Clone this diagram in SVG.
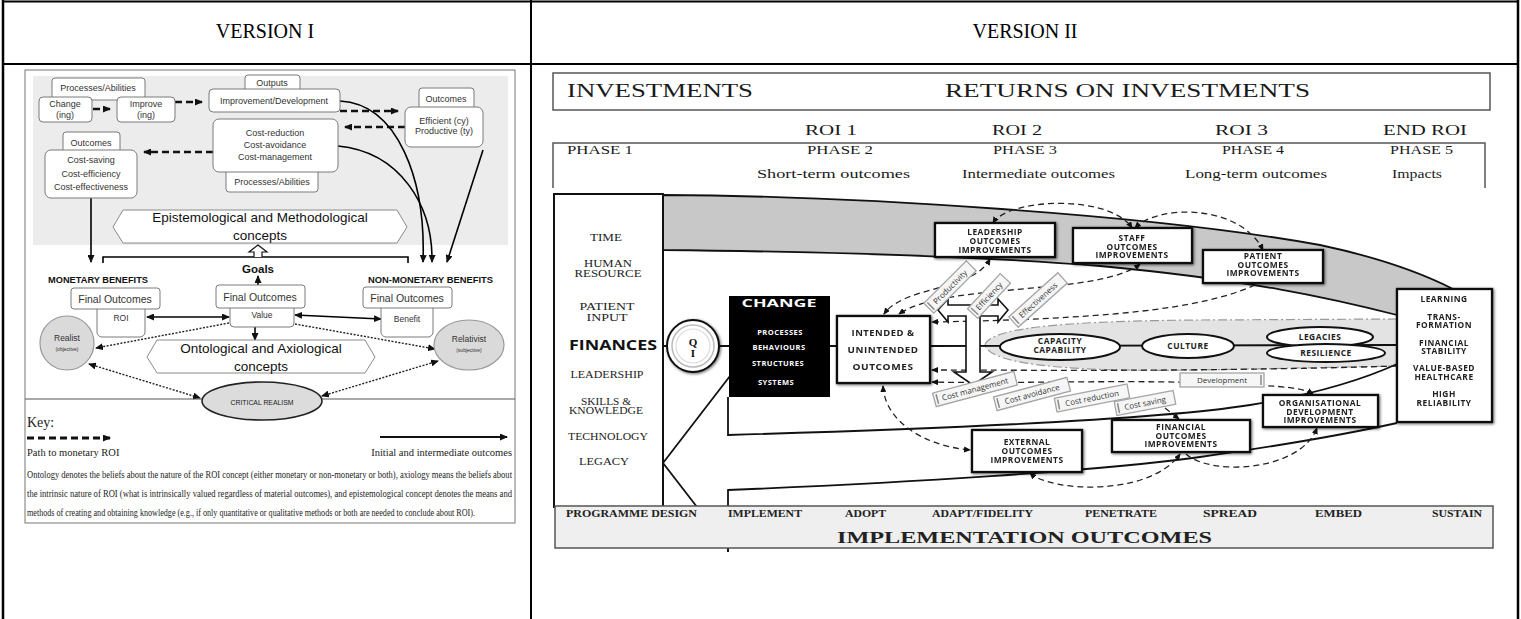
<svg xmlns="http://www.w3.org/2000/svg" width="1521" height="619" viewBox="0 0 1521 619">
<style>
.grid{stroke:#000;stroke-width:2;fill:none}
.hd{font-family:"Liberation Serif","Times New Roman",serif;font-size:20px;text-anchor:middle;fill:#000}
.s{font-family:"Liberation Sans",Arial,sans-serif;fill:#333;text-anchor:middle;font-size:9px}
.bx{fill:#fff;stroke:#7a7a7a;stroke-width:1}
.hex{fill:#fff;stroke:#8a8a8a;stroke-width:1}
.dash{fill:none;stroke:#111;stroke-width:2.6;stroke-dasharray:7 4}
.sol{fill:none;stroke:#000;stroke-width:1.6}
.dot{fill:none;stroke:#222;stroke-width:1.4;stroke-dasharray:2 1.5}
.ser{font-family:"Liberation Serif","Times New Roman",serif;fill:#222}
.v2{font-family:"Liberation Serif","Times New Roman",serif;fill:#1a1a1a}
.res{font-family:"Liberation Serif","Times New Roman",serif;fill:#222;font-size:10.5px;text-anchor:middle}
.bar{font-family:"Liberation Serif","Times New Roman",serif;font-weight:bold;fill:#222;font-size:10.5px}
.nb{font-family:"Open Sans","DejaVu Sans",sans-serif;font-weight:bold;fill:#222;text-anchor:middle;font-size:8.4px;letter-spacing:0.5px}
.node{fill:#fff;stroke:#111;stroke-width:2.3}
.dsh{fill:none;stroke:#222;stroke-width:1.3;stroke-dasharray:6 4}
.tag rect{fill:#f6f6f6;stroke:#a5a5a5;stroke-width:1.3}
.tag line{stroke:#8a8a8a;stroke-width:1.5}
.tag text{font-family:"Open Sans","DejaVu Sans",sans-serif;font-size:8px;fill:#333;text-anchor:middle}
.ell{fill:#fff;stroke:#111;stroke-width:2}
.ln{fill:none;stroke:#111;stroke-width:1.8}
</style>
<defs>
<marker id="ah" viewBox="0 0 8 7" refX="7" refY="3.5" markerWidth="8" markerHeight="7" markerUnits="userSpaceOnUse" orient="auto-start-reverse"><path d="M0,0 L8,3.5 L0,7 z" fill="#111"/></marker>
<marker id="ahs" viewBox="0 0 7 6" refX="6" refY="3" markerWidth="7" markerHeight="6" markerUnits="userSpaceOnUse" orient="auto-start-reverse"><path d="M0,0 L7,3 L0,6 z" fill="#111"/></marker>
<filter id="halo" x="-15%" y="-20%" width="130%" height="140%">
<feGaussianBlur in="SourceAlpha" stdDeviation="1.8" result="b"/>
<feOffset in="b" dx="1" dy="1" result="o"/>
<feComponentTransfer in="o" result="c"><feFuncA type="linear" slope="0.6"/></feComponentTransfer>
<feMerge><feMergeNode in="c"/><feMergeNode in="SourceGraphic"/></feMerge>
</filter>
</defs>

<rect width="1521" height="619" fill="#fff"/>

<!-- table grid -->
<g id="table" class="grid">
<line x1="2" y1="1.5" x2="1519" y2="1.5"/>
<line x1="2" y1="64" x2="1519" y2="64"/>
<line x1="3" y1="0" x2="3" y2="619" stroke-width="2.5"/>
<line x1="531" y1="0" x2="531" y2="619"/>
<line x1="1518" y1="0" x2="1518" y2="619" stroke-width="2.5"/>
</g>
<text class="hd" x="265" y="38">VERSION I</text>
<text class="hd" x="1025" y="38">VERSION II</text>

<!-- ===== Version I ===== -->
<rect x="25" y="70" width="490" height="453" fill="#fff" stroke="#777" stroke-width="1"/>
<rect x="33" y="76" width="475" height="169" fill="#ececec"/>

<g id="v1-connectors">
<line class="dash" x1="93" y1="109" x2="110" y2="109" marker-end="url(#ah)"/>
<line class="dash" x1="175" y1="102" x2="202" y2="102" marker-end="url(#ah)"/>
<line class="dash" x1="340" y1="111" x2="398" y2="111" marker-end="url(#ah)"/>
<line class="dash" x1="405" y1="127" x2="345" y2="127" marker-end="url(#ah)"/>
<line class="dash" x1="213" y1="152" x2="144" y2="152" marker-end="url(#ah)"/>
<path class="sol" d="M340,101 C398,104 426,180 423,262" marker-end="url(#ah)"/>
<path class="sol" d="M338,146 C400,152 433,205 432,262" marker-end="url(#ah)"/>
<path class="sol" d="M483,150 L447,262" marker-end="url(#ah)"/>
<path class="sol" d="M91,198 L91,262" marker-end="url(#ah)"/>
<path class="sol" d="M103,263 L103,257 L408,257 L408,263"/>
<path d="M254,257 L254,252 L249,252 L258,245 L267,252 L262,252 L262,257" fill="#fff" stroke="#111" stroke-width="1.2"/>
<path class="sol" d="M258,285 L258,276" marker-end="url(#ah)"/>
<path class="sol" d="M147,317 L229,317" stroke-width="2.2" marker-start="url(#ah)" marker-end="url(#ah)"/>
<path class="sol" d="M295,315 L381,319" stroke-width="2.2" marker-start="url(#ah)" marker-end="url(#ah)"/>
<path class="sol" d="M255,327 L255,340" marker-end="url(#ah)"/>
<path class="dot" d="M229,323 L96,348" marker-end="url(#ah)"/>
<path class="dot" d="M295,324 L435,349" marker-end="url(#ah)"/>
<path class="dot" d="M89,364 L200,398" marker-start="url(#ah)" marker-end="url(#ah)"/>
<path class="dot" d="M322,396 L438,361" marker-start="url(#ah)" marker-end="url(#ah)"/>
<line x1="25" y1="399" x2="202" y2="399" stroke="#555" stroke-width="1.2"/>
<line x1="320" y1="399" x2="515" y2="399" stroke="#555" stroke-width="1.2"/>
</g>

<g id="v1-processes-top"><rect class="bx" x="52" y="78" width="93" height="22" rx="3"/><text class="s" x="98" y="91">Processes/Abilities</text></g>
<g id="v1-change"><rect class="bx" x="39" y="97" width="53" height="25" rx="4"/><text class="s" x="65" y="107">Change</text><text class="s" x="65" y="118">(ing)</text></g>
<g id="v1-improve"><rect class="bx" x="117" y="97" width="58" height="25" rx="4"/><text class="s" x="146" y="107">Improve</text><text class="s" x="146" y="118">(ing)</text></g>
<g id="v1-outputs"><rect class="bx" x="245" y="75" width="55" height="20" rx="3"/><text class="s" x="272" y="86">Outputs</text></g>
<g id="v1-improvement"><rect class="bx" x="209" y="89" width="131" height="23" rx="4"/><text class="s" x="274" y="104">Improvement/Development</text></g>
<g id="v1-processes-bottom"><rect class="bx" x="226" y="165" width="92" height="27" rx="3"/><text class="s" x="272" y="185">Processes/Abilities</text></g>
<g id="v1-cost-means"><rect class="bx" x="213" y="119" width="125" height="53" rx="6"/><text class="s" x="275" y="136">Cost-reduction</text><text class="s" x="275" y="148">Cost-avoidance</text><text class="s" x="275" y="160">Cost-management</text></g>
<g id="v1-outcomes-left"><rect class="bx" x="63" y="132" width="57" height="22" rx="3"/><text class="s" x="91" y="146">Outcomes</text></g>
<g id="v1-cost-outcomes"><rect class="bx" x="45" y="150" width="92" height="48" rx="6"/><text class="s" x="91" y="163">Cost-saving</text><text class="s" x="91" y="177">Cost-efficiency</text><text class="s" x="91" y="190">Cost-effectiveness</text></g>
<g id="v1-outcomes-right"><rect class="bx" x="419" y="88" width="55" height="22" rx="3"/><text class="s" x="446" y="102">Outcomes</text></g>
<g id="v1-efficient"><rect class="bx" x="405" y="107" width="78" height="40" rx="6"/><text class="s" x="444" y="124">Efficient (cy)</text><text class="s" x="444" y="134">Productive (ty)</text></g>

<g id="v1-epistemological"><polygon class="hex" points="113,227 123,210 397,210 407,227 397,243 123,243"/><text class="s" x="260" y="222" style="font-size:13.5px;fill:#111">Epistemological and Methodological</text><text class="s" x="260" y="240" style="font-size:13.5px;fill:#111">concepts</text></g>

<text class="s" x="258" y="273" style="font-size:11.5px;font-weight:bold;fill:#111">Goals</text>
<text class="s" x="48" y="283" style="font-weight:bold;fill:#111;text-anchor:start" textLength="100" lengthAdjust="spacingAndGlyphs">MONETARY BENEFITS</text>
<text class="s" x="368" y="283" style="font-weight:bold;fill:#111;text-anchor:start" textLength="125" lengthAdjust="spacingAndGlyphs">NON-MONETARY BENEFITS</text>

<g id="v1-roi"><rect class="bx" x="97" y="300" width="48" height="37" rx="5"/><text class="s" x="121" y="321" style="font-size:8.5px">ROI</text></g>
<g id="v1-final-left"><rect class="bx" x="71" y="288" width="89" height="21" rx="3"/><text class="s" x="115" y="303" style="font-size:10.5px">Final Outcomes</text></g>
<g id="v1-value"><rect class="bx" x="230" y="300" width="64" height="27" rx="4"/><text class="s" x="262" y="318" style="font-size:8.5px">Value</text></g>
<g id="v1-final-centre"><rect class="bx" x="216" y="285" width="89" height="23" rx="3"/><text class="s" x="260" y="301" style="font-size:10.5px">Final Outcomes</text></g>
<g id="v1-benefit"><rect class="bx" x="381" y="300" width="52" height="37" rx="5"/><text class="s" x="407" y="322" style="font-size:8.5px">Benefit</text></g>
<g id="v1-final-right"><rect class="bx" x="363" y="287" width="89" height="21" rx="3"/><text class="s" x="407" y="302" style="font-size:10.5px">Final Outcomes</text></g>

<g id="v1-ontological"><polygon class="hex" points="147,357 157,340 365,340 375,357 365,373 157,373"/><text class="s" x="261" y="353" style="font-size:13.5px;fill:#111">Ontological and Axiological</text><text class="s" x="261" y="371" style="font-size:13.5px;fill:#111">concepts</text></g>

<g id="v1-realist"><circle cx="67" cy="343" r="27" fill="#dadada" stroke="#999" stroke-width="1.2"/><text class="s" x="67" y="341" style="font-size:8.5px">Realist</text><text class="s" x="67" y="351" style="font-size:5px">(objective)</text></g>
<g id="v1-relativist"><ellipse cx="469" cy="345" rx="35" ry="25" fill="#dadada" stroke="#999" stroke-width="1.2"/><text class="s" x="469" y="342" style="font-size:8.5px">Relativist</text><text class="s" x="469" y="352" style="font-size:5px">(subjective)</text></g>
<g id="v1-critical-realism"><ellipse cx="262" cy="401" rx="60" ry="19" fill="#dcdcdc" stroke="#222" stroke-width="1.6"/><text class="s" x="262" y="405" style="font-size:7.5px;fill:#222" textLength="63" lengthAdjust="spacingAndGlyphs">CRITICAL REALISM</text></g>

<g id="v1-key">
<text class="ser" x="27" y="427" font-size="14">Key:</text>
<line x1="27" y1="438" x2="110" y2="438" stroke="#111" stroke-width="3" stroke-dasharray="7 4" marker-end="url(#ah)"/>
<text class="ser" x="27" y="456" font-size="10.5">Path to monetary ROI</text>
<line x1="380" y1="437" x2="507" y2="437" stroke="#111" stroke-width="2" marker-end="url(#ah)"/>
<text class="ser" x="512" y="456" font-size="10.5" text-anchor="end">Initial and intermediate outcomes</text>
<text class="ser" x="27" y="478" font-size="9.5" textLength="485" lengthAdjust="spacingAndGlyphs">Ontology denotes the beliefs about the nature of the ROI concept (either monetary or non-monetary or both), axiology means the beliefs about</text>
<text class="ser" x="27" y="497" font-size="9.5" textLength="485" lengthAdjust="spacingAndGlyphs">the intrinsic nature of ROI (what is intrinsically valued regardless of material outcomes), and epistemological concept denotes the means and</text>
<text class="ser" x="27" y="516" font-size="9.5" textLength="448" lengthAdjust="spacingAndGlyphs">methods of creating and obtaining knowledge (e.g., if only quantitative or qualitative methods or both are needed to conclude about ROI).</text>
</g>

<!-- ===== Version II ===== -->
<g id="v2-header">
<rect x="553" y="73" width="937" height="37" fill="none" stroke="#555" stroke-width="1.5"/>
<text class="v2" x="567" y="97" font-size="18" textLength="186" lengthAdjust="spacingAndGlyphs">INVESTMENTS</text>
<text class="v2" x="945" y="97" font-size="18" textLength="365" lengthAdjust="spacingAndGlyphs">RETURNS ON INVESTMENTS</text>
<text class="v2" x="805" y="135" font-size="15" textLength="52" lengthAdjust="spacingAndGlyphs">ROI 1</text>
<text class="v2" x="992" y="135" font-size="15" textLength="50" lengthAdjust="spacingAndGlyphs">ROI 2</text>
<text class="v2" x="1215" y="135" font-size="15" textLength="53" lengthAdjust="spacingAndGlyphs">ROI 3</text>
<text class="v2" x="1383" y="135" font-size="15" textLength="84" lengthAdjust="spacingAndGlyphs">END ROI</text>
<path d="M553,188 L553,143 L1485,143 L1485,188" fill="none" stroke="#555" stroke-width="1.5"/>
<text class="v2" x="567" y="154" font-size="12" textLength="66" lengthAdjust="spacingAndGlyphs">PHASE 1</text>
<text class="v2" x="807" y="154" font-size="12" textLength="66" lengthAdjust="spacingAndGlyphs">PHASE 2</text>
<text class="v2" x="993" y="154" font-size="12" textLength="64" lengthAdjust="spacingAndGlyphs">PHASE 3</text>
<text class="v2" x="1222" y="154" font-size="12" textLength="62" lengthAdjust="spacingAndGlyphs">PHASE 4</text>
<text class="v2" x="1390" y="154" font-size="12" textLength="63" lengthAdjust="spacingAndGlyphs">PHASE 5</text>
<text class="v2" x="757" y="178" font-size="13" textLength="153" lengthAdjust="spacingAndGlyphs">Short-term outcomes</text>
<text class="v2" x="962" y="178" font-size="13" textLength="153" lengthAdjust="spacingAndGlyphs">Intermediate outcomes</text>
<text class="v2" x="1185" y="178" font-size="13" textLength="142" lengthAdjust="spacingAndGlyphs">Long-term outcomes</text>
<text class="v2" x="1392" y="178" font-size="13" textLength="50" lengthAdjust="spacingAndGlyphs">Impacts</text>
</g>

<!-- bands -->
<path id="v2-upper-band" d="M663,195 C850,196 1150,214 1320,245 Q1400,262 1453,289 L1397,289 L1397,315 C1330,298 1250,280 1100,266 C1000,258 850,252 663,250 Z" fill="#c8c8c8" stroke="#111" stroke-width="1.8"/>
<path id="v2-lens" d="M985,345 C990,326 1080,321 1200,320 L1397,319 L1397,366 L1200,370 C1080,372 990,366 985,345 Z" fill="#e3e3e3" stroke="#9a9a9a" stroke-width="1.2" stroke-dasharray="9 3 2 3"/>

<g id="connectors">
<path class="ln" d="M728,397 L728,435 C900,430 1150,421 1250,405 Q1340,390 1397,364"/>
<path class="ln" d="M728,507 L728,490 C900,483 1100,471 1200,457 Q1320,440 1397,423"/>
<path class="ln" d="M663,463 L730,376 M663,463 L697,507"/>
<path class="ln" d="M663,346 L667,346 M719,346 L729,346 M830,346 L837,346 M930,346 L1397,345"/>
<line x1="728" y1="548" x2="728" y2="552" stroke="#111" stroke-width="2"/>
<path class="dsh" d="M993,223 C1008,198 1110,194 1132,228" marker-start="url(#ahs)" marker-end="url(#ahs)"/>
<path class="dsh" d="M1135,228 C1158,204 1240,204 1263,250" marker-start="url(#ahs)" marker-end="url(#ahs)"/>
<path class="dsh" d="M990,259 C972,292 905,285 884,314" marker-start="url(#ahs)" marker-end="url(#ahs)"/>
<path class="dsh" d="M1140,264 C1100,296 945,282 899,314" marker-start="url(#ahs)" marker-end="url(#ahs)"/>
<path class="dsh" d="M1255,285 C1200,310 1100,319 932,322" marker-end="url(#ahs)"/>
<path class="dsh" d="M1397,366 C1200,372 1000,370 932,370" marker-end="url(#ahs)"/>
<path class="dsh" d="M1313,394 C1303,388 1285,386 1230,384 C1150,379 1000,384 932,382" marker-start="url(#ahs)" marker-end="url(#ahs)"/>
<path class="dsh" d="M883,386 C885,422 925,446 970,450" marker-start="url(#ahs)" marker-end="url(#ahs)"/>
<path class="dsh" d="M1030,473 C1050,492 1150,497 1180,454" marker-start="url(#ahs)" marker-end="url(#ahs)"/>
<path class="dsh" d="M1186,454 C1210,476 1300,472 1317,428" marker-end="url(#ahs)"/>
<path class="dsh" d="M1165,408 L1179,419" marker-end="url(#ahs)"/>
</g>

<g id="v2-resources">
<rect x="554" y="194" width="109" height="313" fill="#fff" stroke="#111" stroke-width="2"/>
<text class="res" x="606" y="241" textLength="32" lengthAdjust="spacingAndGlyphs">TIME</text>
<text class="res" x="608" y="267" textLength="48" lengthAdjust="spacingAndGlyphs">HUMAN</text>
<text class="res" x="608" y="277" textLength="67" lengthAdjust="spacingAndGlyphs">RESOURCE</text>
<text class="res" x="607" y="310" textLength="55" lengthAdjust="spacingAndGlyphs">PATIENT</text>
<text class="res" x="607" y="321" textLength="41" lengthAdjust="spacingAndGlyphs">INPUT</text>
<text x="613" y="350" font-family="'Open Sans','DejaVu Sans',sans-serif" font-weight="bold" font-size="15" fill="#111" text-anchor="middle" textLength="88" lengthAdjust="spacingAndGlyphs">FINANCES</text>
<text class="res" x="607" y="378" textLength="73" lengthAdjust="spacingAndGlyphs">LEADERSHIP</text>
<text class="res" x="606" y="405" textLength="50" lengthAdjust="spacingAndGlyphs">SKILLS &amp;</text>
<text class="res" x="606" y="414" textLength="74" lengthAdjust="spacingAndGlyphs">KNOWLEDGE</text>
<text class="res" x="608" y="440" textLength="80" lengthAdjust="spacingAndGlyphs">TECHNOLOGY</text>
<text class="res" x="604" y="465" textLength="50" lengthAdjust="spacingAndGlyphs">LEGACY</text>
</g>

<g id="v2-qi">
<circle cx="693" cy="346" r="26" fill="#fff" stroke="#111" stroke-width="2" filter="url(#halo)"/>
<circle cx="693" cy="346" r="21" fill="none" stroke="#bbb" stroke-width="1.5"/>
<circle cx="693" cy="346" r="17" fill="none" stroke="#ddd" stroke-width="1.2"/>
<text x="693" y="346" font-family="'Liberation Serif',serif" font-weight="bold" font-size="11" text-anchor="middle" fill="#111">Q</text>
<text x="693" y="357" font-family="'Liberation Serif',serif" font-weight="bold" font-size="11" text-anchor="middle" fill="#111">I</text>
</g>

<g id="v2-change">
<rect x="729" y="296" width="101" height="101" fill="#000"/>
<text x="779" y="307" font-family="'Open Sans','DejaVu Sans',sans-serif" font-weight="bold" font-size="11" fill="#fff" text-anchor="middle" textLength="75" lengthAdjust="spacingAndGlyphs">CHANGE</text>
<text class="nb" x="780" y="335" style="fill:#fff;font-size:7.5px">PROCESSES</text>
<text class="nb" x="779" y="350" style="fill:#fff;font-size:7.5px">BEHAVIOURS</text>
<text class="nb" x="778" y="366" style="fill:#fff;font-size:7.5px">STRUCTURES</text>
<text class="nb" x="776" y="385" style="fill:#fff;font-size:7.5px">SYSTEMS</text>
</g>

<g id="v2-intended" filter="url(#halo)">
<rect class="node" x="837" y="316" width="93" height="67"/>
<text class="nb" x="883" y="336" style="font-size:9px" textLength="63" lengthAdjust="spacingAndGlyphs">INTENDED &amp;</text>
<text class="nb" x="883" y="353" style="font-size:9px" textLength="71" lengthAdjust="spacingAndGlyphs">UNINTENDED</text>
<text class="nb" x="883" y="370" style="font-size:9px" textLength="61" lengthAdjust="spacingAndGlyphs">OUTCOMES</text>
</g>

<g id="v2-hollow-arrow">
<path d="M948,305 L998,305 L998,299 L1008,310 L998,322 L998,316 L980,316 L980,372 L992,372 L973,385 L954,372 L966,372 L966,316 L948,316 L948,322 L938,310 L948,299 Z" fill="#fff" stroke="#111" stroke-width="1.6"/>
</g>

<g id="v2-capacity"><ellipse class="ell" cx="1060" cy="347" rx="60" ry="13"/><text class="nb" x="1060" y="344">CAPACITY</text><text class="nb" x="1060" y="353">CAPABILITY</text></g>
<g id="v2-culture"><ellipse class="ell" cx="1188" cy="346" rx="46" ry="12"/><text class="nb" x="1188" y="349">CULTURE</text></g>
<g id="v2-legacies"><ellipse class="ell" cx="1320" cy="337" rx="53" ry="10"/><text class="nb" x="1320" y="340">LEGACIES</text></g>
<g id="v2-resilience"><ellipse class="ell" cx="1326" cy="353" rx="59" ry="9"/><text class="nb" x="1326" y="356">RESILIENCE</text></g>

<g id="v2-tags">
<g class="tag" transform="translate(950,287) rotate(-45)"><rect x="-30" y="-7" width="60" height="14"/><line x1="-27" y1="-5" x2="-27" y2="5"/><text y="3">Productivity</text></g>
<g class="tag" transform="translate(989,296) rotate(-47)"><rect x="-24" y="-7" width="48" height="14"/><line x1="-21" y1="-5" x2="-21" y2="5"/><text y="3">Efficiency</text></g>
<g class="tag" transform="translate(1038,300) rotate(-42)"><rect x="-33" y="-7" width="66" height="14"/><line x1="-30" y1="-5" x2="-30" y2="5"/><text y="3">Effectiveness</text></g>
<g class="tag" transform="translate(975,389) rotate(-15)"><rect x="-42" y="-7" width="84" height="14"/><line x1="-39" y1="-5" x2="-39" y2="5"/><text y="3">Cost management</text></g>
<g class="tag" transform="translate(1032,394) rotate(-15)"><rect x="-38" y="-7" width="76" height="14"/><line x1="-35" y1="-5" x2="-35" y2="5"/><text y="3">Cost avoidance</text></g>
<g class="tag" transform="translate(1092,398) rotate(-11)"><rect x="-37" y="-7" width="74" height="14"/><line x1="-34" y1="-5" x2="-34" y2="5"/><text y="3">Cost reduction</text></g>
<g class="tag" transform="translate(1145,403) rotate(-11)"><rect x="-30" y="-7" width="60" height="14"/><line x1="-27" y1="-5" x2="-27" y2="5"/><text y="3">Cost saving</text></g>
<g class="tag" transform="translate(1222,380)"><rect x="-42" y="-7" width="84" height="14"/><line x1="39" y1="-5" x2="39" y2="5"/><text y="3">Development</text></g>
</g>

<g id="v2-leadership" filter="url(#halo)"><rect class="node" x="935" y="223" width="120" height="34"/><text class="nb" x="995" y="235">LEADERSHIP</text><text class="nb" x="995" y="244">OUTCOMES</text><text class="nb" x="995" y="253">IMPROVEMENTS</text></g>
<g id="v2-staff" filter="url(#halo)"><rect class="node" x="1073" y="228" width="119" height="35"/><text class="nb" x="1132" y="241">STAFF</text><text class="nb" x="1132" y="250">OUTCOMES</text><text class="nb" x="1132" y="258">IMPROVEMENTS</text></g>
<g id="v2-patient" filter="url(#halo)"><rect class="node" x="1203" y="250" width="120" height="33"/><text class="nb" x="1263" y="259">PATIENT</text><text class="nb" x="1263" y="268">OUTCOMES</text><text class="nb" x="1263" y="276">IMPROVEMENTS</text></g>
<g id="v2-external" filter="url(#halo)"><rect class="node" x="972" y="430" width="110" height="42"/><text class="nb" x="1027" y="445">EXTERNAL</text><text class="nb" x="1027" y="454">OUTCOMES</text><text class="nb" x="1027" y="463">IMPROVEMENTS</text></g>
<g id="v2-financial" filter="url(#halo)"><rect class="node" x="1112" y="420" width="138" height="32"/><text class="nb" x="1181" y="430">FINANCIAL</text><text class="nb" x="1181" y="439">OUTCOMES</text><text class="nb" x="1181" y="447">IMPROVEMENTS</text></g>
<g id="v2-organisational" filter="url(#halo)"><rect class="node" x="1263" y="395" width="115" height="32"/><text class="nb" x="1320" y="406">ORGANISATIONAL</text><text class="nb" x="1320" y="415">DEVELOPMENT</text><text class="nb" x="1320" y="423">IMPROVEMENTS</text></g>
<g id="v2-impacts" filter="url(#halo)"><rect class="node" x="1397" y="289" width="95" height="133"/>
<text class="nb" x="1444" y="302">LEARNING</text>
<text class="nb" x="1444" y="320">TRANS-</text><text class="nb" x="1444" y="328">FORMATION</text>
<text class="nb" x="1444" y="346">FINANCIAL</text><text class="nb" x="1444" y="354">STABILITY</text>
<text class="nb" x="1444" y="371">VALUE-BASED</text><text class="nb" x="1444" y="380">HEALTHCARE</text>
<text class="nb" x="1444" y="397">HIGH</text><text class="nb" x="1444" y="406">RELIABILITY</text>
</g>

<g id="v2-implementation">
<rect x="555" y="506" width="938" height="42" fill="#efefef" stroke="#555" stroke-width="1.5"/>
<text class="bar" x="566" y="517" textLength="131" lengthAdjust="spacingAndGlyphs">PROGRAMME DESIGN</text>
<text class="bar" x="728" y="517" textLength="74" lengthAdjust="spacingAndGlyphs">IMPLEMENT</text>
<text class="bar" x="845" y="517" textLength="41" lengthAdjust="spacingAndGlyphs">ADOPT</text>
<text class="bar" x="932" y="517" textLength="101" lengthAdjust="spacingAndGlyphs">ADAPT/FIDELITY</text>
<text class="bar" x="1085" y="517" textLength="72" lengthAdjust="spacingAndGlyphs">PENETRATE</text>
<text class="bar" x="1203" y="517" textLength="54" lengthAdjust="spacingAndGlyphs">SPREAD</text>
<text class="bar" x="1315" y="517" textLength="47" lengthAdjust="spacingAndGlyphs">EMBED</text>
<text class="bar" x="1432" y="517" textLength="50" lengthAdjust="spacingAndGlyphs">SUSTAIN</text>
<text class="bar" x="837" y="543" style="font-size:17px" textLength="375" lengthAdjust="spacingAndGlyphs">IMPLEMENTATION OUTCOMES</text>
</g>
</svg>
